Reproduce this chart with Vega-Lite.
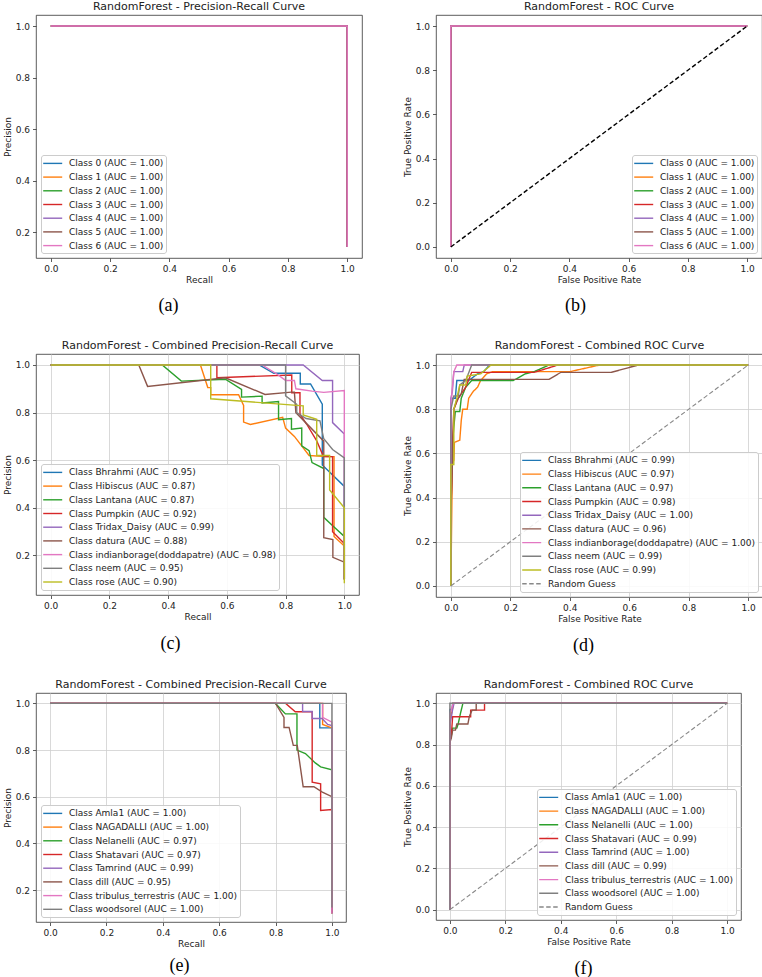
{
  "$schema": "https://vega.github.io/schema/vega-lite/v6.json",
  "padding": {"left": 2, "top": 0, "right": 0, "bottom": 0},
  "columns": 2,
  "bounds": "flush",
  "align": "all",
  "spacing": {"row": 96, "column": 73},
  "resolve": {"scale": {"color": "independent", "strokeDash": "independent", "x": "independent", "y": "independent"}, "legend": {"color": "independent", "strokeDash": "independent"}},
  "datasets": {
    "a": [
      {"c":"Class 0 (AUC = 1.00)","x":0,"y":1},{"c":"Class 0 (AUC = 1.00)","x":1,"y":1},{"c":"Class 0 (AUC = 1.00)","x":1,"y":0.143},
      {"c":"Class 1 (AUC = 1.00)","x":0,"y":1},{"c":"Class 1 (AUC = 1.00)","x":1,"y":1},{"c":"Class 1 (AUC = 1.00)","x":1,"y":0.143},
      {"c":"Class 2 (AUC = 1.00)","x":0,"y":1},{"c":"Class 2 (AUC = 1.00)","x":1,"y":1},{"c":"Class 2 (AUC = 1.00)","x":1,"y":0.143},
      {"c":"Class 3 (AUC = 1.00)","x":0,"y":1},{"c":"Class 3 (AUC = 1.00)","x":1,"y":1},{"c":"Class 3 (AUC = 1.00)","x":1,"y":0.143},
      {"c":"Class 4 (AUC = 1.00)","x":0,"y":1},{"c":"Class 4 (AUC = 1.00)","x":1,"y":1},{"c":"Class 4 (AUC = 1.00)","x":1,"y":0.143},
      {"c":"Class 5 (AUC = 1.00)","x":0,"y":1},{"c":"Class 5 (AUC = 1.00)","x":1,"y":1},{"c":"Class 5 (AUC = 1.00)","x":1,"y":0.143},
      {"c":"Class 6 (AUC = 1.00)","x":0,"y":1},{"c":"Class 6 (AUC = 1.00)","x":1,"y":1},{"c":"Class 6 (AUC = 1.00)","x":1,"y":0.143}
    ],
    "b": [
      {"c":"Class 0 (AUC = 1.00)","x":0,"y":0},{"c":"Class 0 (AUC = 1.00)","x":0,"y":1},{"c":"Class 0 (AUC = 1.00)","x":1,"y":1},
      {"c":"Class 1 (AUC = 1.00)","x":0,"y":0},{"c":"Class 1 (AUC = 1.00)","x":0,"y":1},{"c":"Class 1 (AUC = 1.00)","x":1,"y":1},
      {"c":"Class 2 (AUC = 1.00)","x":0,"y":0},{"c":"Class 2 (AUC = 1.00)","x":0,"y":1},{"c":"Class 2 (AUC = 1.00)","x":1,"y":1},
      {"c":"Class 3 (AUC = 1.00)","x":0,"y":0},{"c":"Class 3 (AUC = 1.00)","x":0,"y":1},{"c":"Class 3 (AUC = 1.00)","x":1,"y":1},
      {"c":"Class 4 (AUC = 1.00)","x":0,"y":0},{"c":"Class 4 (AUC = 1.00)","x":0,"y":1},{"c":"Class 4 (AUC = 1.00)","x":1,"y":1},
      {"c":"Class 5 (AUC = 1.00)","x":0,"y":0},{"c":"Class 5 (AUC = 1.00)","x":0,"y":1},{"c":"Class 5 (AUC = 1.00)","x":1,"y":1},
      {"c":"Class 6 (AUC = 1.00)","x":0,"y":0},{"c":"Class 6 (AUC = 1.00)","x":0,"y":1},{"c":"Class 6 (AUC = 1.00)","x":1,"y":1},
      {"c":"diag","x":0,"y":0},{"c":"diag","x":1,"y":1}
    ],
    "c": [
      {"c":"Class Bhrahmi (AUC = 0.95)","x":0,"y":1},{"c":"Class Bhrahmi (AUC = 0.95)","x":0.71,"y":1},{"c":"Class Bhrahmi (AUC = 0.95)","x":0.76,"y":0.965},{"c":"Class Bhrahmi (AUC = 0.95)","x":0.85,"y":0.965},{"c":"Class Bhrahmi (AUC = 0.95)","x":0.85,"y":0.92},{"c":"Class Bhrahmi (AUC = 0.95)","x":0.885,"y":0.92},{"c":"Class Bhrahmi (AUC = 0.95)","x":0.925,"y":0.835},{"c":"Class Bhrahmi (AUC = 0.95)","x":0.925,"y":0.58},{"c":"Class Bhrahmi (AUC = 0.95)","x":1,"y":0.49},{"c":"Class Bhrahmi (AUC = 0.95)","x":1,"y":0.1},
      {"c":"Class Hibiscus (AUC = 0.87)","x":0,"y":1},{"c":"Class Hibiscus (AUC = 0.87)","x":0.51,"y":1},{"c":"Class Hibiscus (AUC = 0.87)","x":0.535,"y":0.905},{"c":"Class Hibiscus (AUC = 0.87)","x":0.545,"y":0.905},{"c":"Class Hibiscus (AUC = 0.87)","x":0.545,"y":0.875},{"c":"Class Hibiscus (AUC = 0.87)","x":0.64,"y":0.875},{"c":"Class Hibiscus (AUC = 0.87)","x":0.657,"y":0.83},{"c":"Class Hibiscus (AUC = 0.87)","x":0.657,"y":0.76},{"c":"Class Hibiscus (AUC = 0.87)","x":0.68,"y":0.75},{"c":"Class Hibiscus (AUC = 0.87)","x":0.79,"y":0.78},{"c":"Class Hibiscus (AUC = 0.87)","x":0.8,"y":0.735},{"c":"Class Hibiscus (AUC = 0.87)","x":0.83,"y":0.7},{"c":"Class Hibiscus (AUC = 0.87)","x":0.88,"y":0.62},{"c":"Class Hibiscus (AUC = 0.87)","x":0.94,"y":0.615},{"c":"Class Hibiscus (AUC = 0.87)","x":0.965,"y":0.615},{"c":"Class Hibiscus (AUC = 0.87)","x":0.965,"y":0.28},{"c":"Class Hibiscus (AUC = 0.87)","x":1,"y":0.24},{"c":"Class Hibiscus (AUC = 0.87)","x":1,"y":0.1},
      {"c":"Class Lantana (AUC = 0.87)","x":0,"y":1},{"c":"Class Lantana (AUC = 0.87)","x":0.38,"y":1},{"c":"Class Lantana (AUC = 0.87)","x":0.445,"y":0.932},{"c":"Class Lantana (AUC = 0.87)","x":0.595,"y":0.94},{"c":"Class Lantana (AUC = 0.87)","x":0.65,"y":0.897},{"c":"Class Lantana (AUC = 0.87)","x":0.65,"y":0.865},{"c":"Class Lantana (AUC = 0.87)","x":0.72,"y":0.869},{"c":"Class Lantana (AUC = 0.87)","x":0.72,"y":0.84},{"c":"Class Lantana (AUC = 0.87)","x":0.776,"y":0.846},{"c":"Class Lantana (AUC = 0.87)","x":0.776,"y":0.77},{"c":"Class Lantana (AUC = 0.87)","x":0.82,"y":0.775},{"c":"Class Lantana (AUC = 0.87)","x":0.82,"y":0.73},{"c":"Class Lantana (AUC = 0.87)","x":0.855,"y":0.735},{"c":"Class Lantana (AUC = 0.87)","x":0.855,"y":0.66},{"c":"Class Lantana (AUC = 0.87)","x":0.88,"y":0.64},{"c":"Class Lantana (AUC = 0.87)","x":0.89,"y":0.59},{"c":"Class Lantana (AUC = 0.87)","x":0.93,"y":0.565},{"c":"Class Lantana (AUC = 0.87)","x":0.93,"y":0.36},{"c":"Class Lantana (AUC = 0.87)","x":0.965,"y":0.32},{"c":"Class Lantana (AUC = 0.87)","x":1,"y":0.28},{"c":"Class Lantana (AUC = 0.87)","x":1,"y":0.1},
      {"c":"Class Pumpkin (AUC = 0.92)","x":0,"y":1},{"c":"Class Pumpkin (AUC = 0.92)","x":0.566,"y":1},{"c":"Class Pumpkin (AUC = 0.92)","x":0.566,"y":0.946},{"c":"Class Pumpkin (AUC = 0.92)","x":0.821,"y":0.958},{"c":"Class Pumpkin (AUC = 0.92)","x":0.821,"y":0.883},{"c":"Class Pumpkin (AUC = 0.92)","x":0.849,"y":0.883},{"c":"Class Pumpkin (AUC = 0.92)","x":0.849,"y":0.793},{"c":"Class Pumpkin (AUC = 0.92)","x":0.872,"y":0.751},{"c":"Class Pumpkin (AUC = 0.92)","x":0.906,"y":0.681},{"c":"Class Pumpkin (AUC = 0.92)","x":0.929,"y":0.615},{"c":"Class Pumpkin (AUC = 0.92)","x":0.96,"y":0.615},{"c":"Class Pumpkin (AUC = 0.92)","x":0.96,"y":0.3},{"c":"Class Pumpkin (AUC = 0.92)","x":1,"y":0.25},{"c":"Class Pumpkin (AUC = 0.92)","x":1,"y":0.1},
      {"c":"Class Tridax_Daisy (AUC = 0.99)","x":0,"y":1},{"c":"Class Tridax_Daisy (AUC = 0.99)","x":0.86,"y":1},{"c":"Class Tridax_Daisy (AUC = 0.99)","x":0.925,"y":0.935},{"c":"Class Tridax_Daisy (AUC = 0.99)","x":0.96,"y":0.935},{"c":"Class Tridax_Daisy (AUC = 0.99)","x":0.96,"y":0.758},{"c":"Class Tridax_Daisy (AUC = 0.99)","x":1,"y":0.71},{"c":"Class Tridax_Daisy (AUC = 0.99)","x":1,"y":0.1},
      {"c":"Class datura (AUC = 0.88)","x":0,"y":1},{"c":"Class datura (AUC = 0.88)","x":0.3,"y":1},{"c":"Class datura (AUC = 0.88)","x":0.33,"y":0.91},{"c":"Class datura (AUC = 0.88)","x":0.595,"y":0.946},{"c":"Class datura (AUC = 0.88)","x":0.73,"y":0.876},{"c":"Class datura (AUC = 0.88)","x":0.82,"y":0.886},{"c":"Class datura (AUC = 0.88)","x":0.83,"y":0.886},{"c":"Class datura (AUC = 0.88)","x":0.835,"y":0.8},{"c":"Class datura (AUC = 0.88)","x":0.93,"y":0.68},{"c":"Class datura (AUC = 0.88)","x":0.93,"y":0.275},{"c":"Class datura (AUC = 0.88)","x":0.961,"y":0.267},{"c":"Class datura (AUC = 0.88)","x":0.961,"y":0.192},{"c":"Class datura (AUC = 0.88)","x":1,"y":0.172},{"c":"Class datura (AUC = 0.88)","x":1,"y":0.1},
      {"c":"Class indianborage(doddapatre) (AUC = 0.98)","x":0,"y":1},{"c":"Class indianborage(doddapatre) (AUC = 0.98)","x":0.72,"y":1},{"c":"Class indianborage(doddapatre) (AUC = 0.98)","x":0.77,"y":0.962},{"c":"Class indianborage(doddapatre) (AUC = 0.98)","x":0.8,"y":0.935},{"c":"Class indianborage(doddapatre) (AUC = 0.98)","x":0.83,"y":0.935},{"c":"Class indianborage(doddapatre) (AUC = 0.98)","x":0.835,"y":0.9},{"c":"Class indianborage(doddapatre) (AUC = 0.98)","x":0.89,"y":0.89},{"c":"Class indianborage(doddapatre) (AUC = 0.98)","x":0.93,"y":0.885},{"c":"Class indianborage(doddapatre) (AUC = 0.98)","x":1,"y":0.893},{"c":"Class indianborage(doddapatre) (AUC = 0.98)","x":1,"y":0.1},
      {"c":"Class neem (AUC = 0.95)","x":0,"y":1},{"c":"Class neem (AUC = 0.95)","x":0.8,"y":1},{"c":"Class neem (AUC = 0.95)","x":0.8,"y":0.87},{"c":"Class neem (AUC = 0.95)","x":0.838,"y":0.835},{"c":"Class neem (AUC = 0.95)","x":0.838,"y":0.8},{"c":"Class neem (AUC = 0.95)","x":0.87,"y":0.775},{"c":"Class neem (AUC = 0.95)","x":0.917,"y":0.765},{"c":"Class neem (AUC = 0.95)","x":0.93,"y":0.69},{"c":"Class neem (AUC = 0.95)","x":0.96,"y":0.645},{"c":"Class neem (AUC = 0.95)","x":1,"y":0.61},{"c":"Class neem (AUC = 0.95)","x":1,"y":0.1},
      {"c":"Class rose (AUC = 0.90)","x":0,"y":1},{"c":"Class rose (AUC = 0.90)","x":0.545,"y":1},{"c":"Class rose (AUC = 0.90)","x":0.545,"y":0.858},{"c":"Class rose (AUC = 0.90)","x":0.86,"y":0.828},{"c":"Class rose (AUC = 0.90)","x":0.86,"y":0.79},{"c":"Class rose (AUC = 0.90)","x":0.906,"y":0.772},{"c":"Class rose (AUC = 0.90)","x":0.906,"y":0.62},{"c":"Class rose (AUC = 0.90)","x":0.95,"y":0.62},{"c":"Class rose (AUC = 0.90)","x":0.95,"y":0.475},{"c":"Class rose (AUC = 0.90)","x":1,"y":0.4},{"c":"Class rose (AUC = 0.90)","x":1,"y":0.083}
    ],
    "d": [
      {"c":"Class Bhrahmi (AUC = 0.99)","x":0,"y":0},{"c":"Class Bhrahmi (AUC = 0.99)","x":0,"y":0.82},{"c":"Class Bhrahmi (AUC = 0.99)","x":0.005,"y":0.85},{"c":"Class Bhrahmi (AUC = 0.99)","x":0.015,"y":0.85},{"c":"Class Bhrahmi (AUC = 0.99)","x":0.02,"y":0.93},{"c":"Class Bhrahmi (AUC = 0.99)","x":0.06,"y":0.93},{"c":"Class Bhrahmi (AUC = 0.99)","x":0.09,"y":0.96},{"c":"Class Bhrahmi (AUC = 0.99)","x":0.11,"y":0.97},{"c":"Class Bhrahmi (AUC = 0.99)","x":0.13,"y":1},{"c":"Class Bhrahmi (AUC = 0.99)","x":1,"y":1},
      {"c":"Class Hibiscus (AUC = 0.97)","x":0,"y":0},{"c":"Class Hibiscus (AUC = 0.97)","x":0.005,"y":0.55},{"c":"Class Hibiscus (AUC = 0.97)","x":0.01,"y":0.57},{"c":"Class Hibiscus (AUC = 0.97)","x":0.012,"y":0.65},{"c":"Class Hibiscus (AUC = 0.97)","x":0.03,"y":0.66},{"c":"Class Hibiscus (AUC = 0.97)","x":0.035,"y":0.75},{"c":"Class Hibiscus (AUC = 0.97)","x":0.04,"y":0.8},{"c":"Class Hibiscus (AUC = 0.97)","x":0.055,"y":0.8},{"c":"Class Hibiscus (AUC = 0.97)","x":0.06,"y":0.85},{"c":"Class Hibiscus (AUC = 0.97)","x":0.075,"y":0.88},{"c":"Class Hibiscus (AUC = 0.97)","x":0.09,"y":0.9},{"c":"Class Hibiscus (AUC = 0.97)","x":0.1,"y":0.93},{"c":"Class Hibiscus (AUC = 0.97)","x":0.12,"y":0.96},{"c":"Class Hibiscus (AUC = 0.97)","x":0.14,"y":0.97},{"c":"Class Hibiscus (AUC = 0.97)","x":0.4,"y":0.97},{"c":"Class Hibiscus (AUC = 0.97)","x":0.5,"y":1},{"c":"Class Hibiscus (AUC = 0.97)","x":1,"y":1},
      {"c":"Class Lantana (AUC = 0.97)","x":0,"y":0},{"c":"Class Lantana (AUC = 0.97)","x":0,"y":0.55},{"c":"Class Lantana (AUC = 0.97)","x":0.01,"y":0.72},{"c":"Class Lantana (AUC = 0.97)","x":0.015,"y":0.79},{"c":"Class Lantana (AUC = 0.97)","x":0.03,"y":0.79},{"c":"Class Lantana (AUC = 0.97)","x":0.035,"y":0.85},{"c":"Class Lantana (AUC = 0.97)","x":0.05,"y":0.9},{"c":"Class Lantana (AUC = 0.97)","x":0.07,"y":0.93},{"c":"Class Lantana (AUC = 0.97)","x":0.21,"y":0.93},{"c":"Class Lantana (AUC = 0.97)","x":0.25,"y":0.96},{"c":"Class Lantana (AUC = 0.97)","x":0.28,"y":0.97},{"c":"Class Lantana (AUC = 0.97)","x":0.33,"y":1},{"c":"Class Lantana (AUC = 0.97)","x":1,"y":1},
      {"c":"Class Pumpkin (AUC = 0.98)","x":0,"y":0},{"c":"Class Pumpkin (AUC = 0.98)","x":0,"y":0.33},{"c":"Class Pumpkin (AUC = 0.98)","x":0.005,"y":0.6},{"c":"Class Pumpkin (AUC = 0.98)","x":0.01,"y":0.8},{"c":"Class Pumpkin (AUC = 0.98)","x":0.025,"y":0.85},{"c":"Class Pumpkin (AUC = 0.98)","x":0.05,"y":0.9},{"c":"Class Pumpkin (AUC = 0.98)","x":0.07,"y":0.967},{"c":"Class Pumpkin (AUC = 0.98)","x":0.28,"y":0.967},{"c":"Class Pumpkin (AUC = 0.98)","x":0.36,"y":1},{"c":"Class Pumpkin (AUC = 0.98)","x":1,"y":1},
      {"c":"Class Tridax_Daisy (AUC = 1.00)","x":0,"y":0},{"c":"Class Tridax_Daisy (AUC = 1.00)","x":0,"y":0.85},{"c":"Class Tridax_Daisy (AUC = 1.00)","x":0.005,"y":0.88},{"c":"Class Tridax_Daisy (AUC = 1.00)","x":0.01,"y":0.97},{"c":"Class Tridax_Daisy (AUC = 1.00)","x":0.04,"y":0.97},{"c":"Class Tridax_Daisy (AUC = 1.00)","x":0.045,"y":1},{"c":"Class Tridax_Daisy (AUC = 1.00)","x":1,"y":1},
      {"c":"Class datura (AUC = 0.96)","x":0,"y":0},{"c":"Class datura (AUC = 0.96)","x":0,"y":0.32},{"c":"Class datura (AUC = 0.96)","x":0.005,"y":0.55},{"c":"Class datura (AUC = 0.96)","x":0.01,"y":0.8},{"c":"Class datura (AUC = 0.96)","x":0.02,"y":0.84},{"c":"Class datura (AUC = 0.96)","x":0.035,"y":0.87},{"c":"Class datura (AUC = 0.96)","x":0.045,"y":0.935},{"c":"Class datura (AUC = 0.96)","x":0.33,"y":0.935},{"c":"Class datura (AUC = 0.96)","x":0.37,"y":0.967},{"c":"Class datura (AUC = 0.96)","x":0.54,"y":0.967},{"c":"Class datura (AUC = 0.96)","x":0.63,"y":1},{"c":"Class datura (AUC = 0.96)","x":1,"y":1},
      {"c":"Class indianborage(doddapatre) (AUC = 1.00)","x":0,"y":0},{"c":"Class indianborage(doddapatre) (AUC = 1.00)","x":0,"y":0.8},{"c":"Class indianborage(doddapatre) (AUC = 1.00)","x":0.005,"y":0.9},{"c":"Class indianborage(doddapatre) (AUC = 1.00)","x":0.01,"y":0.97},{"c":"Class indianborage(doddapatre) (AUC = 1.00)","x":0.02,"y":1},{"c":"Class indianborage(doddapatre) (AUC = 1.00)","x":1,"y":1},
      {"c":"Class neem (AUC = 0.99)","x":0,"y":0},{"c":"Class neem (AUC = 0.99)","x":0,"y":0.8},{"c":"Class neem (AUC = 0.99)","x":0.01,"y":0.86},{"c":"Class neem (AUC = 0.99)","x":0.025,"y":0.86},{"c":"Class neem (AUC = 0.99)","x":0.03,"y":0.91},{"c":"Class neem (AUC = 0.99)","x":0.05,"y":0.93},{"c":"Class neem (AUC = 0.99)","x":0.07,"y":1},{"c":"Class neem (AUC = 0.99)","x":1,"y":1},
      {"c":"Class rose (AUC = 0.99)","x":0,"y":0},{"c":"Class rose (AUC = 0.99)","x":0,"y":0.55},{"c":"Class rose (AUC = 0.99)","x":0.01,"y":0.55},{"c":"Class rose (AUC = 0.99)","x":0.01,"y":0.8},{"c":"Class rose (AUC = 0.99)","x":0.02,"y":0.85},{"c":"Class rose (AUC = 0.99)","x":0.03,"y":0.91},{"c":"Class rose (AUC = 0.99)","x":0.05,"y":0.91},{"c":"Class rose (AUC = 0.99)","x":0.055,"y":0.95},{"c":"Class rose (AUC = 0.99)","x":0.1,"y":0.96},{"c":"Class rose (AUC = 0.99)","x":0.135,"y":1},{"c":"Class rose (AUC = 0.99)","x":1,"y":1},
      {"c":"Random Guess","x":0,"y":0},{"c":"Random Guess","x":1,"y":1}
    ],
    "e": [
      {"c":"Class Amla1 (AUC = 1.00)","x":0,"y":1},{"c":"Class Amla1 (AUC = 1.00)","x":0.957,"y":1},{"c":"Class Amla1 (AUC = 1.00)","x":0.957,"y":0.895},{"c":"Class Amla1 (AUC = 1.00)","x":1,"y":0.895},{"c":"Class Amla1 (AUC = 1.00)","x":1,"y":0.1},
      {"c":"Class NAGADALLI (AUC = 1.00)","x":0,"y":1},{"c":"Class NAGADALLI (AUC = 1.00)","x":0.967,"y":1},{"c":"Class NAGADALLI (AUC = 1.00)","x":0.967,"y":0.91},{"c":"Class NAGADALLI (AUC = 1.00)","x":1,"y":0.895},{"c":"Class NAGADALLI (AUC = 1.00)","x":1,"y":0.1},
      {"c":"Class Nelanelli (AUC = 0.97)","x":0,"y":1},{"c":"Class Nelanelli (AUC = 0.97)","x":0.8,"y":1},{"c":"Class Nelanelli (AUC = 0.97)","x":0.835,"y":0.955},{"c":"Class Nelanelli (AUC = 0.97)","x":0.876,"y":0.955},{"c":"Class Nelanelli (AUC = 0.97)","x":0.876,"y":0.8},{"c":"Class Nelanelli (AUC = 0.97)","x":0.906,"y":0.785},{"c":"Class Nelanelli (AUC = 0.97)","x":0.941,"y":0.745},{"c":"Class Nelanelli (AUC = 0.97)","x":0.96,"y":0.728},{"c":"Class Nelanelli (AUC = 0.97)","x":1,"y":0.715},{"c":"Class Nelanelli (AUC = 0.97)","x":1,"y":0.108},
      {"c":"Class Shatavari (AUC = 0.97)","x":0,"y":1},{"c":"Class Shatavari (AUC = 0.97)","x":0.836,"y":1},{"c":"Class Shatavari (AUC = 0.97)","x":0.87,"y":0.964},{"c":"Class Shatavari (AUC = 0.97)","x":0.93,"y":0.964},{"c":"Class Shatavari (AUC = 0.97)","x":0.93,"y":0.662},{"c":"Class Shatavari (AUC = 0.97)","x":0.96,"y":0.655},{"c":"Class Shatavari (AUC = 0.97)","x":0.96,"y":0.541},{"c":"Class Shatavari (AUC = 0.97)","x":1,"y":0.545},{"c":"Class Shatavari (AUC = 0.97)","x":1,"y":0.1},
      {"c":"Class Tamrind (AUC = 0.99)","x":0,"y":1},{"c":"Class Tamrind (AUC = 0.99)","x":0.896,"y":1},{"c":"Class Tamrind (AUC = 0.99)","x":0.896,"y":0.965},{"c":"Class Tamrind (AUC = 0.99)","x":0.93,"y":0.965},{"c":"Class Tamrind (AUC = 0.99)","x":0.93,"y":0.935},{"c":"Class Tamrind (AUC = 0.99)","x":0.965,"y":0.935},{"c":"Class Tamrind (AUC = 0.99)","x":0.985,"y":0.91},{"c":"Class Tamrind (AUC = 0.99)","x":1,"y":0.905},{"c":"Class Tamrind (AUC = 0.99)","x":1,"y":0.1},
      {"c":"Class dill (AUC = 0.95)","x":0,"y":1},{"c":"Class dill (AUC = 0.95)","x":0.8,"y":1},{"c":"Class dill (AUC = 0.95)","x":0.83,"y":0.94},{"c":"Class dill (AUC = 0.95)","x":0.83,"y":0.897},{"c":"Class dill (AUC = 0.95)","x":0.848,"y":0.897},{"c":"Class dill (AUC = 0.95)","x":0.863,"y":0.82},{"c":"Class dill (AUC = 0.95)","x":0.877,"y":0.82},{"c":"Class dill (AUC = 0.95)","x":0.898,"y":0.643},{"c":"Class dill (AUC = 0.95)","x":0.936,"y":0.643},{"c":"Class dill (AUC = 0.95)","x":0.966,"y":0.62},{"c":"Class dill (AUC = 0.95)","x":1,"y":0.6},{"c":"Class dill (AUC = 0.95)","x":1,"y":0.1},
      {"c":"Class tribulus_terrestris (AUC = 1.00)","x":0,"y":1},{"c":"Class tribulus_terrestris (AUC = 1.00)","x":0.967,"y":1},{"c":"Class tribulus_terrestris (AUC = 1.00)","x":0.967,"y":0.94},{"c":"Class tribulus_terrestris (AUC = 1.00)","x":1,"y":0.92},{"c":"Class tribulus_terrestris (AUC = 1.00)","x":1,"y":0.1},
      {"c":"Class woodsorel (AUC = 1.00)","x":0,"y":1},{"c":"Class woodsorel (AUC = 1.00)","x":1,"y":1},{"c":"Class woodsorel (AUC = 1.00)","x":1,"y":0.125}
    ],
    "f": [
      {"c":"Class Amla1 (AUC = 1.00)","x":0,"y":0},{"c":"Class Amla1 (AUC = 1.00)","x":0,"y":0.97},{"c":"Class Amla1 (AUC = 1.00)","x":0.008,"y":0.97},{"c":"Class Amla1 (AUC = 1.00)","x":0.01,"y":1},{"c":"Class Amla1 (AUC = 1.00)","x":1,"y":1},
      {"c":"Class NAGADALLI (AUC = 1.00)","x":0,"y":0},{"c":"Class NAGADALLI (AUC = 1.00)","x":0,"y":0.93},{"c":"Class NAGADALLI (AUC = 1.00)","x":0.008,"y":0.96},{"c":"Class NAGADALLI (AUC = 1.00)","x":0.012,"y":1},{"c":"Class NAGADALLI (AUC = 1.00)","x":1,"y":1},
      {"c":"Class Nelanelli (AUC = 1.00)","x":0,"y":0},{"c":"Class Nelanelli (AUC = 1.00)","x":0,"y":0.82},{"c":"Class Nelanelli (AUC = 1.00)","x":0.005,"y":0.84},{"c":"Class Nelanelli (AUC = 1.00)","x":0.01,"y":0.88},{"c":"Class Nelanelli (AUC = 1.00)","x":0.025,"y":0.88},{"c":"Class Nelanelli (AUC = 1.00)","x":0.03,"y":0.9},{"c":"Class Nelanelli (AUC = 1.00)","x":0.038,"y":0.95},{"c":"Class Nelanelli (AUC = 1.00)","x":0.047,"y":1},{"c":"Class Nelanelli (AUC = 1.00)","x":1,"y":1},
      {"c":"Class Shatavari (AUC = 0.99)","x":0,"y":0},{"c":"Class Shatavari (AUC = 0.99)","x":0,"y":0.82},{"c":"Class Shatavari (AUC = 0.99)","x":0.005,"y":0.84},{"c":"Class Shatavari (AUC = 0.99)","x":0.01,"y":0.935},{"c":"Class Shatavari (AUC = 0.99)","x":0.075,"y":0.935},{"c":"Class Shatavari (AUC = 0.99)","x":0.075,"y":0.967},{"c":"Class Shatavari (AUC = 0.99)","x":0.125,"y":0.967},{"c":"Class Shatavari (AUC = 0.99)","x":0.125,"y":1},{"c":"Class Shatavari (AUC = 0.99)","x":1,"y":1},
      {"c":"Class Tamrind (AUC = 1.00)","x":0,"y":0},{"c":"Class Tamrind (AUC = 1.00)","x":0,"y":0.9},{"c":"Class Tamrind (AUC = 1.00)","x":0.005,"y":0.93},{"c":"Class Tamrind (AUC = 1.00)","x":0.01,"y":0.97},{"c":"Class Tamrind (AUC = 1.00)","x":0.015,"y":1},{"c":"Class Tamrind (AUC = 1.00)","x":1,"y":1},
      {"c":"Class dill (AUC = 0.99)","x":0,"y":0},{"c":"Class dill (AUC = 0.99)","x":0,"y":0.81},{"c":"Class dill (AUC = 0.99)","x":0.005,"y":0.83},{"c":"Class dill (AUC = 0.99)","x":0.01,"y":0.87},{"c":"Class dill (AUC = 0.99)","x":0.02,"y":0.87},{"c":"Class dill (AUC = 0.99)","x":0.025,"y":0.9},{"c":"Class dill (AUC = 0.99)","x":0.065,"y":0.9},{"c":"Class dill (AUC = 0.99)","x":0.07,"y":0.935},{"c":"Class dill (AUC = 0.99)","x":0.08,"y":0.967},{"c":"Class dill (AUC = 0.99)","x":0.095,"y":0.967},{"c":"Class dill (AUC = 0.99)","x":0.095,"y":1},{"c":"Class dill (AUC = 0.99)","x":1,"y":1},
      {"c":"Class tribulus_terrestris (AUC = 1.00)","x":0,"y":0},{"c":"Class tribulus_terrestris (AUC = 1.00)","x":0,"y":0.95},{"c":"Class tribulus_terrestris (AUC = 1.00)","x":0.005,"y":0.97},{"c":"Class tribulus_terrestris (AUC = 1.00)","x":0.012,"y":1},{"c":"Class tribulus_terrestris (AUC = 1.00)","x":1,"y":1},
      {"c":"Class woodsorel (AUC = 1.00)","x":0,"y":0},{"c":"Class woodsorel (AUC = 1.00)","x":0,"y":1},{"c":"Class woodsorel (AUC = 1.00)","x":1,"y":1},
      {"c":"Random Guess","x":0,"y":0},{"c":"Random Guess","x":1,"y":1}
    ]
  },
  "concat": [
    {
      "width": 326, "height": 243,
      "title": "RandomForest - Precision-Recall Curve",
      "data": {"name": "a"},
      "encoding": {
        "y": {"field": "y", "type": "quantitative", "scale": {"domain": [0.1, 1.0429], "nice": false, "zero": false}, "axis": {"title": "Precision", "values": [0.2, 0.4, 0.6, 0.8, 1.0], "format": ".1f", "grid": false}},
        "color": {"field": "c", "type": "nominal", "scale": {"domain": ["Class 0 (AUC = 1.00)", "Class 1 (AUC = 1.00)", "Class 2 (AUC = 1.00)", "Class 3 (AUC = 1.00)", "Class 4 (AUC = 1.00)", "Class 5 (AUC = 1.00)", "Class 6 (AUC = 1.00)"], "range": ["#1f77b4", "#ff7f0e", "#2ca02c", "#d62728", "#9467bd", "#8c564b", "#e377c2"]}, "legend": {"title": null, "orient": "bottom-left", "symbolType": "M-1.9,0H1.9"}}
      },
      "layer": [
        {"transform": [{"filter": "datum.c != 'Class 6 (AUC = 1.00)'"}], "mark": {"type": "line", "strokeWidth": 1.4},
         "encoding": {"x": {"field": "x", "type": "quantitative", "scale": {"domain": [-0.05, 1.05], "nice": false, "zero": false}, "axis": {"title": "Recall", "values": [0, 0.2, 0.4, 0.6, 0.8, 1.0], "format": ".1f", "grid": false}}}},
        {"transform": [{"filter": "datum.c == 'Class 6 (AUC = 1.00)'"}], "mark": {"type": "line", "strokeWidth": 1.4},
         "encoding": {"x": {"field": "x", "type": "quantitative", "scale": {"domain": [-0.05, 1.05], "nice": false, "zero": false}, "axis": {"orient": "bottom", "title": "(a)", "labels": false, "ticks": false, "domain": false, "grid": false, "titleFont": "Liberation Serif", "titleFontSize": 18, "titleFontWeight": "normal", "titleColor": "#000000", "titleX": 132, "titleY": 38.5, "titleAlign": "center", "titleBaseline": "top"}}}}
      ],
      "resolve": {"axis": {"x": "independent"}}
    },
    {
      "width": 326, "height": 243,
      "title": "RandomForest - ROC Curve",
      "data": {"name": "b"},
      "encoding": {
        "y": {"field": "y", "type": "quantitative", "scale": {"domain": [-0.05, 1.05], "nice": false, "zero": false}, "axis": {"title": "True Positive Rate", "values": [0, 0.2, 0.4, 0.6, 0.8, 1.0], "format": ".1f", "grid": false}},
        "color": {"field": "c", "type": "nominal", "scale": {"domain": ["Class 0 (AUC = 1.00)", "Class 1 (AUC = 1.00)", "Class 2 (AUC = 1.00)", "Class 3 (AUC = 1.00)", "Class 4 (AUC = 1.00)", "Class 5 (AUC = 1.00)", "Class 6 (AUC = 1.00)"], "range": ["#1f77b4", "#ff7f0e", "#2ca02c", "#d62728", "#9467bd", "#8c564b", "#e377c2"]}, "legend": {"title": null, "orient": "bottom-right", "symbolType": "M-1.9,0H1.9"}}
      },
      "layer": [
        {"transform": [{"filter": "datum.c != 'diag'"}], "mark": {"type": "line", "strokeWidth": 1.4},
         "encoding": {"x": {"field": "x", "type": "quantitative", "scale": {"domain": [-0.05, 1.05], "nice": false, "zero": false}, "axis": {"title": "False Positive Rate", "values": [0, 0.2, 0.4, 0.6, 0.8, 1.0], "format": ".1f", "grid": false}}}},
        {"transform": [{"filter": "datum.c == 'diag'"}], "mark": {"type": "line", "strokeWidth": 1.4, "strokeDash": [4.5, 2.5]},
         "encoding": {"color": {"value": "#000000"}, "x": {"field": "x", "type": "quantitative", "scale": {"domain": [-0.05, 1.05], "nice": false, "zero": false}, "axis": {"orient": "bottom", "title": "(b)", "labels": false, "ticks": false, "domain": false, "grid": false, "titleFont": "Liberation Serif", "titleFontSize": 18, "titleFontWeight": "normal", "titleColor": "#000000", "titleX": 139, "titleY": 38.5, "titleAlign": "center", "titleBaseline": "top"}}}}
      ],
      "resolve": {"axis": {"x": "independent"}}
    },
    {
      "width": 323, "height": 241,
      "title": "RandomForest - Combined Precision-Recall Curve",
      "data": {"name": "c"},
      "encoding": {
        "y": {"field": "y", "type": "quantitative", "scale": {"domain": [0.034, 1.046], "nice": false, "zero": false}, "axis": {"title": "Precision", "values": [0.2, 0.4, 0.6, 0.8, 1.0], "format": ".1f", "grid": true}},
        "color": {"field": "c", "type": "nominal", "scale": {"domain": ["Class Bhrahmi (AUC = 0.95)", "Class Hibiscus (AUC = 0.87)", "Class Lantana (AUC = 0.87)", "Class Pumpkin (AUC = 0.92)", "Class Tridax_Daisy (AUC = 0.99)", "Class datura (AUC = 0.88)", "Class indianborage(doddapatre) (AUC = 0.98)", "Class neem (AUC = 0.95)", "Class rose (AUC = 0.90)"], "range": ["#1f77b4", "#ff7f0e", "#2ca02c", "#d62728", "#9467bd", "#8c564b", "#e377c2", "#7f7f7f", "#bcbd22"]}, "legend": {"title": null, "orient": "bottom-left", "symbolType": "M-1.9,0H1.9"}}
      },
      "layer": [
        {"transform": [{"filter": "datum.c != 'Class rose (AUC = 0.90)'"}], "mark": {"type": "line", "strokeWidth": 1.4},
         "encoding": {"x": {"field": "x", "type": "quantitative", "scale": {"domain": [-0.05, 1.05], "nice": false, "zero": false}, "axis": {"title": "Recall", "values": [0, 0.2, 0.4, 0.6, 0.8, 1.0], "format": ".1f", "grid": true}}}},
        {"transform": [{"filter": "datum.c == 'Class rose (AUC = 0.90)'"}], "mark": {"type": "line", "strokeWidth": 1.4},
         "encoding": {"x": {"field": "x", "type": "quantitative", "scale": {"domain": [-0.05, 1.05], "nice": false, "zero": false}, "axis": {"orient": "bottom", "title": "(c)", "labels": false, "ticks": false, "domain": false, "grid": false, "titleFont": "Liberation Serif", "titleFontSize": 18, "titleFontWeight": "normal", "titleColor": "#000000", "titleX": 134, "titleY": 39, "titleAlign": "center", "titleBaseline": "top"}}}}
      ],
      "resolve": {"axis": {"x": "independent"}}
    },
    {
      "width": 327, "height": 243,
      "title": "RandomForest - Combined ROC Curve",
      "data": {"name": "d"},
      "encoding": {
        "y": {"field": "y", "type": "quantitative", "scale": {"domain": [-0.05, 1.05], "nice": false, "zero": false}, "axis": {"title": "True Positive Rate", "values": [0, 0.2, 0.4, 0.6, 0.8, 1.0], "format": ".1f", "grid": true}},
        "color": {"field": "c", "type": "nominal", "scale": {"domain": ["Class Bhrahmi (AUC = 0.99)", "Class Hibiscus (AUC = 0.97)", "Class Lantana (AUC = 0.97)", "Class Pumpkin (AUC = 0.98)", "Class Tridax_Daisy (AUC = 1.00)", "Class datura (AUC = 0.96)", "Class indianborage(doddapatre) (AUC = 1.00)", "Class neem (AUC = 0.99)", "Class rose (AUC = 0.99)", "Random Guess"], "range": ["#1f77b4", "#ff7f0e", "#2ca02c", "#d62728", "#9467bd", "#8c564b", "#e377c2", "#7f7f7f", "#bcbd22", "#888888"]}, "legend": {"title": null, "orient": "bottom-right", "symbolType": "M-1.9,0H1.9"}},
        "strokeDash": {"field": "c", "type": "nominal", "scale": {"domain": ["Class Bhrahmi (AUC = 0.99)", "Class Hibiscus (AUC = 0.97)", "Class Lantana (AUC = 0.97)", "Class Pumpkin (AUC = 0.98)", "Class Tridax_Daisy (AUC = 1.00)", "Class datura (AUC = 0.96)", "Class indianborage(doddapatre) (AUC = 1.00)", "Class neem (AUC = 0.99)", "Class rose (AUC = 0.99)", "Random Guess"], "range": [[1, 0], [1, 0], [1, 0], [1, 0], [1, 0], [1, 0], [1, 0], [1, 0], [1, 0], [4.5, 2.5]]}, "legend": {"title": null, "orient": "bottom-right", "symbolType": "M-1.9,0H1.9"}}
      },
      "layer": [
        {"transform": [{"filter": "datum.c != 'Random Guess'"}], "mark": {"type": "line", "strokeWidth": 1.4},
         "encoding": {"x": {"field": "x", "type": "quantitative", "scale": {"domain": [-0.05, 1.05], "nice": false, "zero": false}, "axis": {"title": "False Positive Rate", "values": [0, 0.2, 0.4, 0.6, 0.8, 1.0], "format": ".1f", "grid": true}}}},
        {"transform": [{"filter": "datum.c == 'Random Guess'"}], "mark": {"type": "line", "strokeWidth": 1.1},
         "encoding": {"x": {"field": "x", "type": "quantitative", "scale": {"domain": [-0.05, 1.05], "nice": false, "zero": false}, "axis": {"orient": "bottom", "title": "(d)", "labels": false, "ticks": false, "domain": false, "grid": false, "titleFont": "Liberation Serif", "titleFontSize": 18, "titleFontWeight": "normal", "titleColor": "#000000", "titleX": 147, "titleY": 39, "titleAlign": "center", "titleBaseline": "top"}}}}
      ],
      "resolve": {"axis": {"x": "independent"}}
    },
    {
      "width": 310, "height": 229,
      "title": "RandomForest - Combined Precision-Recall Curve",
      "data": {"name": "e"},
      "encoding": {
        "y": {"field": "y", "type": "quantitative", "scale": {"domain": [0.063, 1.0446], "nice": false, "zero": false}, "axis": {"title": "Precision", "values": [0.2, 0.4, 0.6, 0.8, 1.0], "format": ".1f", "grid": true}},
        "color": {"field": "c", "type": "nominal", "scale": {"domain": ["Class Amla1 (AUC = 1.00)", "Class NAGADALLI (AUC = 1.00)", "Class Nelanelli (AUC = 0.97)", "Class Shatavari (AUC = 0.97)", "Class Tamrind (AUC = 0.99)", "Class dill (AUC = 0.95)", "Class tribulus_terrestris (AUC = 1.00)", "Class woodsorel (AUC = 1.00)"], "range": ["#1f77b4", "#ff7f0e", "#2ca02c", "#d62728", "#9467bd", "#8c564b", "#e377c2", "#7f7f7f"]}, "legend": {"title": null, "orient": "bottom-left", "symbolType": "M-1.9,0H1.9"}}
      },
      "layer": [
        {"transform": [{"filter": "datum.c != 'Class woodsorel (AUC = 1.00)'"}], "mark": {"type": "line", "strokeWidth": 1.4},
         "encoding": {"x": {"field": "x", "type": "quantitative", "scale": {"domain": [-0.05, 1.05], "nice": false, "zero": false}, "axis": {"title": "Recall", "values": [0, 0.2, 0.4, 0.6, 0.8, 1.0], "format": ".1f", "grid": true}}}},
        {"transform": [{"filter": "datum.c == 'Class woodsorel (AUC = 1.00)'"}], "mark": {"type": "line", "strokeWidth": 1.4},
         "encoding": {"x": {"field": "x", "type": "quantitative", "scale": {"domain": [-0.05, 1.05], "nice": false, "zero": false}, "axis": {"orient": "bottom", "title": "(e)", "labels": false, "ticks": false, "domain": false, "grid": false, "titleFont": "Liberation Serif", "titleFontSize": 18, "titleFontWeight": "normal", "titleColor": "#000000", "titleX": 143, "titleY": 34, "titleAlign": "center", "titleBaseline": "top"}}}}
      ],
      "resolve": {"axis": {"x": "independent"}}
    },
    {
      "width": 305, "height": 227,
      "title": "RandomForest - Combined ROC Curve",
      "data": {"name": "f"},
      "encoding": {
        "y": {"field": "y", "type": "quantitative", "scale": {"domain": [-0.05, 1.05], "nice": false, "zero": false}, "axis": {"title": "True Positive Rate", "values": [0, 0.2, 0.4, 0.6, 0.8, 1.0], "format": ".1f", "grid": true}},
        "color": {"field": "c", "type": "nominal", "scale": {"domain": ["Class Amla1 (AUC = 1.00)", "Class NAGADALLI (AUC = 1.00)", "Class Nelanelli (AUC = 1.00)", "Class Shatavari (AUC = 0.99)", "Class Tamrind (AUC = 1.00)", "Class dill (AUC = 0.99)", "Class tribulus_terrestris (AUC = 1.00)", "Class woodsorel (AUC = 1.00)", "Random Guess"], "range": ["#1f77b4", "#ff7f0e", "#2ca02c", "#d62728", "#9467bd", "#8c564b", "#e377c2", "#7f7f7f", "#888888"]}, "legend": {"title": null, "orient": "bottom-right", "symbolType": "M-1.9,0H1.9"}},
        "strokeDash": {"field": "c", "type": "nominal", "scale": {"domain": ["Class Amla1 (AUC = 1.00)", "Class NAGADALLI (AUC = 1.00)", "Class Nelanelli (AUC = 1.00)", "Class Shatavari (AUC = 0.99)", "Class Tamrind (AUC = 1.00)", "Class dill (AUC = 0.99)", "Class tribulus_terrestris (AUC = 1.00)", "Class woodsorel (AUC = 1.00)", "Random Guess"], "range": [[1, 0], [1, 0], [1, 0], [1, 0], [1, 0], [1, 0], [1, 0], [1, 0], [4.5, 2.5]]}, "legend": {"title": null, "orient": "bottom-right", "symbolType": "M-1.9,0H1.9"}}
      },
      "layer": [
        {"transform": [{"filter": "datum.c != 'Random Guess'"}], "mark": {"type": "line", "strokeWidth": 1.4},
         "encoding": {"x": {"field": "x", "type": "quantitative", "scale": {"domain": [-0.05, 1.05], "nice": false, "zero": false}, "axis": {"title": "False Positive Rate", "values": [0, 0.2, 0.4, 0.6, 0.8, 1.0], "format": ".1f", "grid": true}}}},
        {"transform": [{"filter": "datum.c == 'Random Guess'"}], "mark": {"type": "line", "strokeWidth": 1.1},
         "encoding": {"x": {"field": "x", "type": "quantitative", "scale": {"domain": [-0.05, 1.05], "nice": false, "zero": false}, "axis": {"orient": "bottom", "title": "(f)", "labels": false, "ticks": false, "domain": false, "grid": false, "titleFont": "Liberation Serif", "titleFontSize": 18, "titleFontWeight": "normal", "titleColor": "#000000", "titleX": 147, "titleY": 39, "titleAlign": "center", "titleBaseline": "top"}}}}
      ],
      "resolve": {"axis": {"x": "independent"}}
    }
  ],
  "config": {
    "font": "DejaVu Sans",
    "background": "white",
    "view": {"stroke": "#333333", "strokeWidth": 0.8},
    "axis": {"domain": false, "tickColor": "#333333", "tickSize": 3.5, "tickWidth": 0.8, "labelFont": "DejaVu Sans", "labelFontSize": 9, "labelColor": "#222222", "labelPadding": 3, "labelFlush": false, "labelOverlap": false, "titleFont": "DejaVu Sans", "titleFontSize": 9, "titleFontWeight": "normal", "titleColor": "#222222", "gridColor": "#cfcfcf", "gridWidth": 0.8},
    "axisX": {"titlePadding": 2, "labelPadding": 2.5},
    "axisY": {"titlePadding": 3},
    "title": {"font": "DejaVu Sans", "fontSize": 11, "fontWeight": "normal", "color": "#222222", "offset": 3.2, "anchor": "middle", "frame": "group"},
    "legend": {"symbolSize": 100, "symbolStrokeWidth": 1.4, "labelFont": "DejaVu Sans", "labelFontSize": 9, "labelColor": "#222222", "labelLimit": 400, "padding": 2.4, "rowPadding": 2.7, "symbolOffset": 3.3, "labelOffset": 10.2, "fillColor": "rgba(255,255,255,0.85)", "strokeColor": "#cccccc", "cornerRadius": 2.5, "offset": 5}
  }
}
